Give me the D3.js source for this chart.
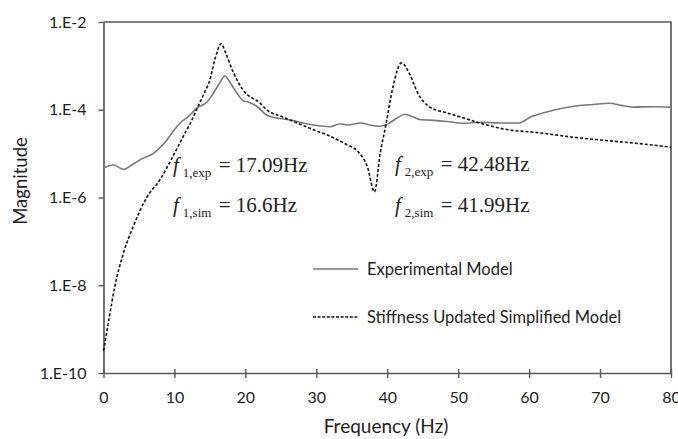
<!DOCTYPE html>
<html>
<head>
<meta charset="utf-8">
<script src="https://cdn.jsdelivr.net/npm/d3@7"></script>
<style>
  html, body { margin: 0; padding: 0; background: #fff; }
  svg { display: block; }
  .tick-label, .axis-title, .legend-text { font-family: Lato, "Open Sans", sans-serif; fill: #1e1e1e; }
  .anno { font-family: "Liberation Serif", "Times New Roman", serif; fill: #222; }
</style>
</head>
<body>
<svg id="chart" width="678" height="439"></svg>
<script>
// Frequency response magnitudes (Hz, magnitude)
const expFreq = [0, 1.4, 2.8, 4.2, 5.6, 7.0, 8.0, 8.9, 9.8, 10.8, 12.0, 13.2, 14.6, 15.5, 16.3, 17.1,
  18.0, 18.8, 19.7, 20.4, 21.6, 23.0, 24.9, 26.3, 27.7, 29.6, 31.9, 33.4, 34.3, 36.3, 37.5, 39.0,
  40.0, 41.4, 42.5, 43.7, 44.8, 46.0, 48.4, 50.8, 53.0, 56.0, 58.6, 60.2, 62.5, 64.5, 66.8, 69.0,
  71.3, 73.0, 74.7, 77.5, 80.0];
const expMag = [4.7e-6, 5.5e-6, 4.4e-6, 5.8e-6, 7.9e-6, 1.0e-5, 1.4e-5, 2.0e-5, 3.2e-5, 5.0e-5, 7.1e-5,
  1.1e-4, 1.5e-4, 2.4e-4, 3.9e-4, 5.9e-4, 3.8e-4, 2.4e-4, 1.6e-4, 1.5e-4, 1.2e-4, 7.6e-5, 6.3e-5,
  5.9e-5, 5.2e-5, 4.5e-5, 4.1e-5, 4.8e-5, 4.5e-5, 5.0e-5, 4.5e-5, 4.2e-5, 4.7e-5, 6.5e-5, 7.9e-5,
  6.8e-5, 5.9e-5, 5.8e-5, 5.4e-5, 4.9e-5, 5.2e-5, 5.0e-5, 5.0e-5, 6.8e-5, 8.9e-5, 1.07e-4, 1.23e-4,
  1.32e-4, 1.41e-4, 1.26e-4, 1.15e-4, 1.17e-4, 1.15e-4];

const simFreq = [0, 0.8, 1.6, 2.75, 4.2, 6.0, 8.0, 9.6, 11.2, 12.2, 13.2, 14.2, 15.0, 15.7, 16.6, 17.2,
  18.3, 19.7, 22.1, 23.0, 25.3, 27.3, 29.6, 31.9, 34.3, 35.9, 37.2, 38.2, 39.0, 39.8, 40.8, 42.0,
  43.2, 44.3, 46.0, 48.4, 50.8, 53.0, 56.6, 61.3, 65.9, 70.7, 75.4, 80.0];
const simMag = [3.2e-10, 1.8e-9, 9.5e-9, 5.0e-8, 2.2e-7, 9.5e-7, 2.6e-6, 7.6e-6, 2.4e-5, 4.8e-5,
  1.07e-4, 2.4e-4, 4.8e-4, 1.4e-3, 3.2e-3, 2.0e-3, 7.1e-4, 2.8e-4, 1.4e-4, 1.0e-4, 6.8e-5, 5.0e-5,
  3.5e-5, 2.5e-5, 1.6e-5, 1.1e-5, 5.0e-6, 1.35e-6, 1.0e-5, 4.5e-5, 3.3e-4, 1.17e-3, 6.3e-4, 2.4e-4,
  1.15e-4, 8.5e-5, 6.5e-5, 5.0e-5, 3.6e-5, 3.0e-5, 2.4e-5, 2.0e-5, 1.7e-5, 1.4e-5];

const xTicks = [0, 10, 20, 30, 40, 50, 60, 70, 80];
const yTicks = [1e-10, 1e-8, 1e-6, 1e-4, 1e-2];
const yTickLabels = ["1.E-10", "1.E-8", "1.E-6", "1.E-4", "1.E-2"];

const seriesNames = ["Experimental Model", "Stiffness Updated Simplified Model"];
// Natural frequency annotations: mode, source, value
const annoMode = ["1", "1", "2", "2"];
const annoSrc = ["exp", "sim", "exp", "sim"];
const annoVal = ["17.09Hz", "16.6Hz", "42.48Hz", "41.99Hz"];

const svg = d3.select("#chart");
const plotLeft = 103.5, plotRight = 671, plotTop = 22, plotBottom = 373;
const x = d3.scaleLinear().domain([0, 80]).range([plotLeft, plotRight]);
const y = d3.scaleLog().domain([1e-10, 1e-2]).range([plotBottom, plotTop]);

const axisColor = "#5a5a5a";

// plot frame (top and right edges)
svg.append("path")
  .attr("d", `M${plotLeft},${plotTop}H${plotRight}V${plotBottom}`)
  .attr("fill", "none").attr("stroke", axisColor).attr("stroke-width", 1.7);

// x axis
const xAxis = svg.append("g").attr("transform", `translate(0,${plotBottom})`)
  .call(d3.axisBottom(x).tickValues(xTicks).tickSize(5).tickSizeOuter(0).tickFormat(d3.format("d")));
xAxis.select(".domain").attr("stroke", axisColor).attr("stroke-width", 1.7);
xAxis.selectAll(".tick line").attr("stroke", axisColor).attr("stroke-width", 1.4).attr("y1", -4);
xAxis.selectAll(".tick text").attr("class", "tick-label").attr("font-size", 16)
  .attr("dy", "0.35em").attr("y", 24);

// y axis
const yAxis = svg.append("g").attr("transform", `translate(${plotLeft},0)`)
  .call(d3.axisLeft(y).tickValues(yTicks).tickSize(5).tickSizeOuter(0)
    .tickFormat((d, i) => yTickLabels[i]));
yAxis.select(".domain").attr("stroke", axisColor).attr("stroke-width", 1.7);
yAxis.selectAll(".tick line").attr("stroke", axisColor).attr("stroke-width", 1.4);
yAxis.selectAll(".tick text").attr("class", "tick-label").attr("font-size", 16).attr("x", -17);

// axis titles
svg.append("text").attr("class", "axis-title")
  .attr("x", 386).attr("y", 433).attr("text-anchor", "middle")
  .attr("font-size", 19).text("Frequency (Hz)");
svg.append("text").attr("class", "axis-title")
  .attr("transform", "translate(27,181) rotate(-90)")
  .attr("text-anchor", "middle").attr("font-size", 18.5).text("Magnitude");

// curves
const line = d3.line().x(d => x(d[0])).y(d => y(d[1])).curve(d3.curveMonotoneX);
const expData = expFreq.map((f, i) => [f, expMag[i]]);
const simData = simFreq.map((f, i) => [f, simMag[i]]);

svg.append("path").datum(expData).attr("d", line)
  .attr("fill", "none").attr("stroke", "#7a7a7a").attr("stroke-width", 1.6);
svg.append("path").datum(simData).attr("d", line)
  .attr("fill", "none").attr("stroke", "#111").attr("stroke-width", 1.6)
  .attr("stroke-dasharray", "3,2");

// natural frequency annotations
const annoPos = [[173, 172], [173, 212], [395, 171], [395, 212]];
annoMode.forEach((m, i) => {
  const t = svg.append("text").attr("class", "anno")
    .attr("x", annoPos[i][0]).attr("y", annoPos[i][1]).attr("font-size", 21);
  t.append("tspan").attr("font-style", "italic").text("f");
  t.append("tspan").attr("font-size", 13).attr("dy", 5).attr("dx", 4).text(m + "," + annoSrc[i]);
  t.append("tspan").attr("dy", -5).attr("dx", 2).text(" = " + annoVal[i]);
});

// legend
const legY = [269, 317];
const legDash = [null, "3,1.6"];
const legStroke = ["#7a7a7a", "#111"];
seriesNames.forEach((name, i) => {
  svg.append("line").attr("x1", 313).attr("x2", 358).attr("y1", legY[i]).attr("y2", legY[i])
    .attr("stroke", legStroke[i]).attr("stroke-width", 1.4)
    .attr("stroke-dasharray", legDash[i]);
  svg.append("text").attr("class", "legend-text")
    .attr("x", 367).attr("y", legY[i]).attr("dy", "0.35em")
    .attr("font-size", 16.5).text(name);
});
</script>
</body>
</html>
